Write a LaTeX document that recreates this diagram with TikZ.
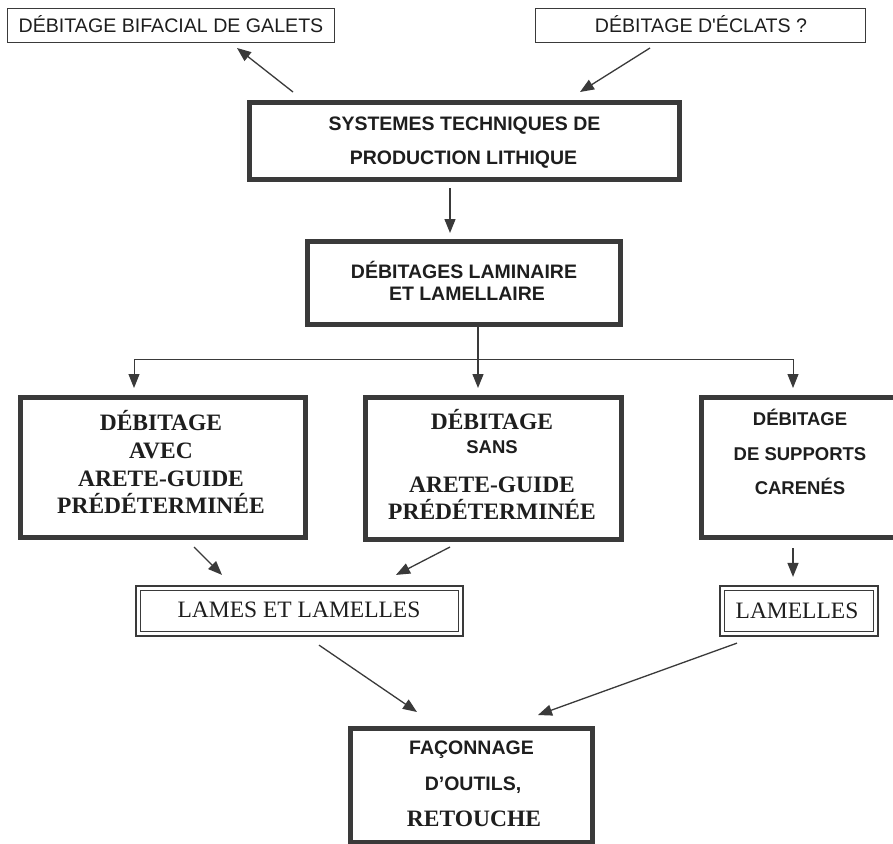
\documentclass[tikz,border=0pt]{standalone}
\usepackage{fontspec}
\setmainfont{Liberation Serif}
\newfontfamily\arial{Liberation Sans}
\usetikzlibrary{arrows.meta,calc}
\definecolor{ink}{HTML}{1E1E1E}
\definecolor{linecol}{HTML}{3A3A3A}
\begin{document}
\begin{tikzpicture}[x=1pt,y=-1pt,
  thinbox/.style={draw=linecol,line width=1.3pt,inner sep=0pt},
  thickbox/.style={draw=linecol,line width=5pt,inner sep=0pt},
  dblbox/.style={draw=linecol,line width=2.2pt,inner sep=0pt},
  innerline/.style={draw=linecol,line width=1.1pt},
  arr/.style={draw=linecol,line width=1.3pt,-{Triangle[length=14pt,width=11pt]}},
  lab/.style={inner sep=0pt,anchor=base,text=ink},
  sansr/.style={font=\arial\fontsize{19.6}{19.6}\selectfont},
  sansb/.style={font=\arial\bfseries\fontsize{19.5}{19.5}\selectfont},
  sansbs/.style={font=\arial\bfseries\fontsize{18.5}{18.5}\selectfont},
  serb/.style={font=\bfseries\fontsize{23.5}{23.5}\selectfont},
  serr/.style={font=\fontsize{23.5}{23.5}\selectfont},
]
\useasboundingbox (0,0) rectangle (893,843);
\fill[white] (0,0) rectangle (893,843);
\clip (0,0) rectangle (893,843);

% boxes
\node[thinbox, minimum width=326.7pt, minimum height=33.7pt] (tl) at (171,25.5) {};
\node[thinbox, minimum width=329.7pt, minimum height=33.7pt] (tr) at (700.5,25.5) {};
\node[thickbox, minimum width=430pt, minimum height=77pt] (main) at (464.5,141) {};
\node[thickbox, minimum width=313pt, minimum height=83pt] (lam) at (464,283) {};
\node[thickbox, minimum width=285pt, minimum height=140pt] (A) at (163,467.5) {};
\node[thickbox, minimum width=256pt, minimum height=142pt] (B) at (493.5,468.5) {};
\node[thickbox, minimum width=200pt, minimum height=140pt] (C) at (801.5,467.5) {};
\node[dblbox, minimum width=327pt, minimum height=50pt] (lames) at (299.5,611) {};
\node[dblbox, minimum width=158pt, minimum height=50pt] (lamelles) at (799,611) {};
\node[thickbox, minimum width=242pt, minimum height=114pt] (fac) at (471.5,785.5) {};

\draw[innerline] ([shift={(6pt,-6pt)}]lames.north west) rectangle ([shift={(-6pt,6pt)}]lames.south east);
\draw[innerline] ([shift={(6pt,-6pt)}]lamelles.north west) rectangle ([shift={(-6pt,6pt)}]lamelles.south east);

% texts
\node[lab,sansr] (ttl) at (171,32.3) {DÉBITAGE BIFACIAL DE GALETS};
\node[lab,sansr] (ttr) at (701,32.3) {DÉBITAGE D\textquotesingle ÉCLATS ?};
\node[lab,sansb] (tm1) at (464.5,130) {SYSTEMES TECHNIQUES DE};
\node[lab,sansb] (tm2) at (463.5,164) {PRODUCTION LITHIQUE};
\node[lab,sansb] (tl1) at (464,278.5) {DÉBITAGES LAMINAIRE};
\node[lab,sansb] (tl2) at (467,300.5) {ET LAMELLAIRE};
\node[lab,serb] (ta1) at (161,430) {DÉBITAGE};
\node[lab,serb] (ta2) at (161,458) {AVEC};
\node[lab,serb] (ta3) at (161,486) {ARETE-GUIDE};
\node[lab,serb] (ta4) at (161,513) {PRÉDÉTERMINÉE};
\node[lab,serb] (tb1) at (492,429) {DÉBITAGE};
\node[lab,sansbs] (tb2) at (492,453) {SANS};
\node[lab,serb] (tb3) at (492,492) {ARETE-GUIDE};
\node[lab,serb] (tb4) at (492,519) {PRÉDÉTERMINÉE};
\node[lab,sansbs] (tc1) at (800,425) {DÉBITAGE};
\node[lab,sansbs] (tc2) at (800,460) {DE SUPPORTS};
\node[lab,sansbs] (tc3) at (800,494) {CARENÉS};
\node[lab,serr] (tlames) at (299,617.5) {LAMES ET LAMELLES};
\node[lab,serr] (tlamelles) at (797,618) {LAMELLES};
\node[lab,sansb] (tf1) at (471.5,754) {FAÇONNAGE};
\node[lab,sansb] (tf2) at (473,790) {D’OUTILS,};
\node[lab,serb] (tf3) at (474,826) {RETOUCHE};

% connectors
\draw[arr] ($(main.north west)+(46,-8)$) -- ($(tl.south)+(66,5)$);
\draw[arr] ($(tr.south)+(-50.5,5)$) -- ($(main.north east)+(-102,-8)$);
\draw[arr] ($(main.south)+(-14.5,6)$) -- ($(lam.north)+(-14,-6)$);
\coordinate (split) at ($(lam.south)+(14,32)$);
\draw[arr] ($(lam.south)+(14,0)$) -- ($(B.north)+(-15.5,-7)$);
\draw[arr,line width=1pt] (split) -| ($(A.north)+(-29,-7)$);
\draw[arr,line width=1pt] (split) -| ($(C.north)+(-8.5,-7)$);
\draw[arr] ($(A.south)+(31,7)$) -- ($(lames.north)+(-77.5,-10)$);
\draw[arr] ($(B.south)+(-43.5,5)$) -- ($(lames.north)+(96.5,-10)$);
\draw[arr] ($(C.south)+(-8.5,8)$) -- ($(lamelles.north)+(-6,-8)$);
\draw[arr] ($(lames.south)+(19.5,8)$) -- ($(fac.north)+(-54.5,-14)$);
\draw[arr] ($(lamelles.south)+(-62,6)$) -- ($(fac.north)+(66.5,-11)$);
\end{tikzpicture}
\end{document}
